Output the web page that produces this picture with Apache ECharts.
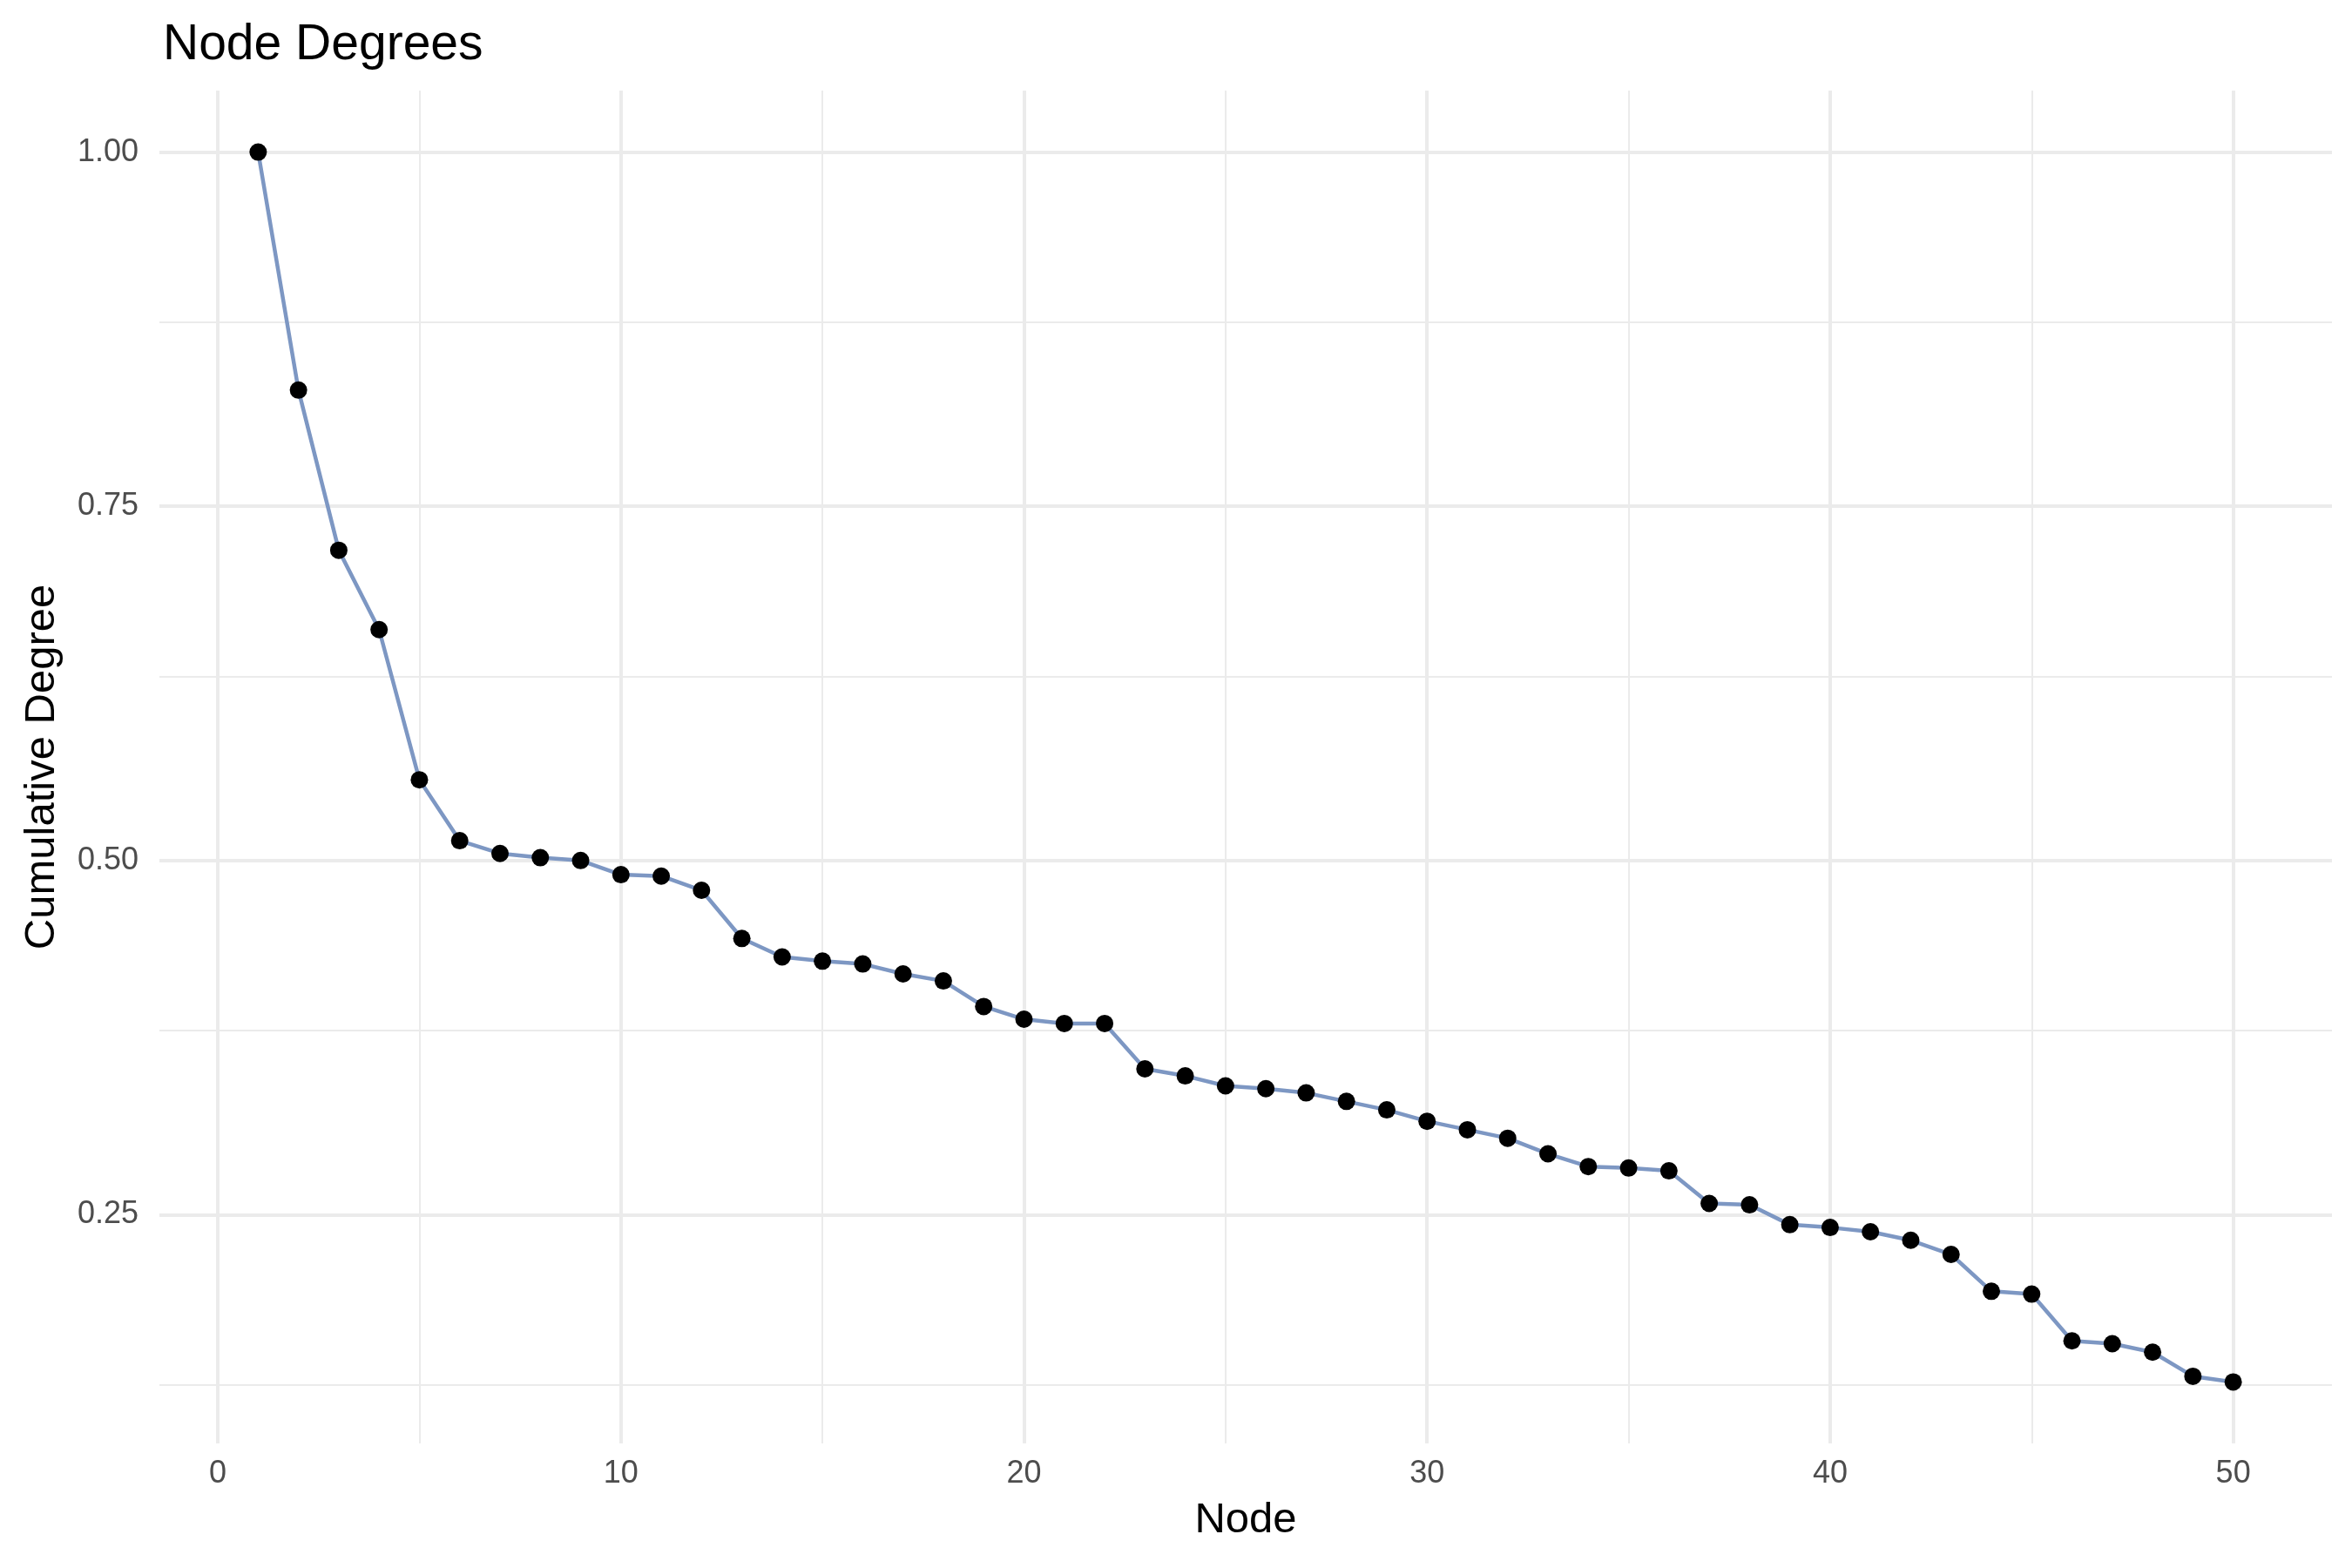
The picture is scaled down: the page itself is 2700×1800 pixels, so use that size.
<!DOCTYPE html>
<html>
<head>
<meta charset="utf-8">
<script src="https://cdn.jsdelivr.net/npm/echarts@6/dist/echarts.min.js"></script>
<style>
  html, body { margin: 0; padding: 0; background: #fff; }
  #graph { width: 2700px; height: 1800px; }
</style>
</head>
<body>
<div id="graph"></div>
<script>
// node index (x) and cumulative degree (y)
var nodes = [1, 2, 3, 4, 5, 6, 7, 8, 9, 10,
             11, 12, 13, 14, 15, 16, 17, 18, 19, 20,
             21, 22, 23, 24, 25, 26, 27, 28, 29, 30,
             31, 32, 33, 34, 35, 36, 37, 38, 39, 40,
             41, 42, 43, 44, 45, 46, 47, 48, 49, 50];
var degree = [1.000, 0.832, 0.719, 0.663, 0.557, 0.514, 0.505, 0.502, 0.500, 0.490,
              0.489, 0.479, 0.445, 0.432, 0.429, 0.427, 0.420, 0.415, 0.397, 0.388,
              0.385, 0.385, 0.353, 0.348, 0.341, 0.339, 0.336, 0.330, 0.324, 0.316,
              0.310, 0.304, 0.293, 0.284, 0.283, 0.281, 0.258, 0.257, 0.243, 0.241,
              0.238, 0.232, 0.222, 0.196, 0.194, 0.161, 0.159, 0.153, 0.136, 0.132];

// tick values
var xMajor = [0, 10, 20, 30, 40, 50];
var xMinor = [5, 15, 25, 35, 45];
var yMajor = [0.25, 0.50, 0.75, 1.00];
var yMinor = [0.125, 0.375, 0.625, 0.875];

var myChart = echarts.init(document.getElementById('graph'));

var points = [];
for (var i in nodes) {
    points.push([nodes[i], degree[i]]);
}

// grid lines drawn as markLines so minor and major can differ in width
var grid = [];
xMinor.forEach(function (v) { grid.push({ xAxis: v, lineStyle: { width: 2 } }); });
yMinor.forEach(function (v) { grid.push({ yAxis: v, lineStyle: { width: 2 } }); });
xMajor.forEach(function (v) { grid.push({ xAxis: v, lineStyle: { width: 4 } }); });
yMajor.forEach(function (v) { grid.push({ yAxis: v, lineStyle: { width: 4 } }); });

var option = {
    animation: false,
    backgroundColor: '#ffffff',
    title: {
        text: 'Node Degrees',
        left: 182,
        top: 19,
        textStyle: {
            fontFamily: 'Liberation Sans',
            fontSize: 57,
            fontWeight: 'normal',
            color: '#000000'
        }
    },
    grid: {
        left: 183,
        right: 23,
        top: 104,
        bottom: 143
    },
    xAxis: {
        type: 'value',
        min: -1.45,
        max: 52.45,
        name: 'Node',
        nameLocation: 'middle',
        nameGap: 64,
        nameTextStyle: { fontFamily: 'Liberation Sans', fontSize: 49, color: '#000000' },
        axisLine: { show: false },
        axisTick: { show: false },
        splitLine: { show: false },
        axisLabel: {
            customValues: xMajor,
            margin: 17,
            fontFamily: 'Liberation Sans',
            fontSize: 36,
            color: '#4D4D4D'
        }
    },
    yAxis: {
        type: 'value',
        min: 0.0886,
        max: 1.0434,
        name: 'Cumulative Degree',
        nameLocation: 'middle',
        nameGap: 110,
        nameTextStyle: { fontFamily: 'Liberation Sans', fontSize: 49, color: '#000000' },
        axisLine: { show: false },
        axisTick: { show: false },
        splitLine: { show: false },
        axisLabel: {
            customValues: yMajor,
            margin: 24,
            fontFamily: 'Liberation Sans',
            fontSize: 36,
            color: '#4D4D4D',
            formatter: function (v) { return v.toFixed(2); }
        }
    },
    series: [
        {
            name: 'degree',
            type: 'line',
            z: 3,
            data: points,
            symbol: 'circle',
            symbolSize: 20,
            itemStyle: { color: '#000000' },
            lineStyle: { color: '#7D97C3', width: 4.5 },
            markLine: {
                silent: true,
                z: 1,
                symbol: 'none',
                label: { show: false },
                lineStyle: { color: '#EBEBEB', type: 'solid' },
                emphasis: { disabled: true },
                data: grid
            }
        }
    ]
};

myChart.setOption(option);
</script>
</body>
</html>
